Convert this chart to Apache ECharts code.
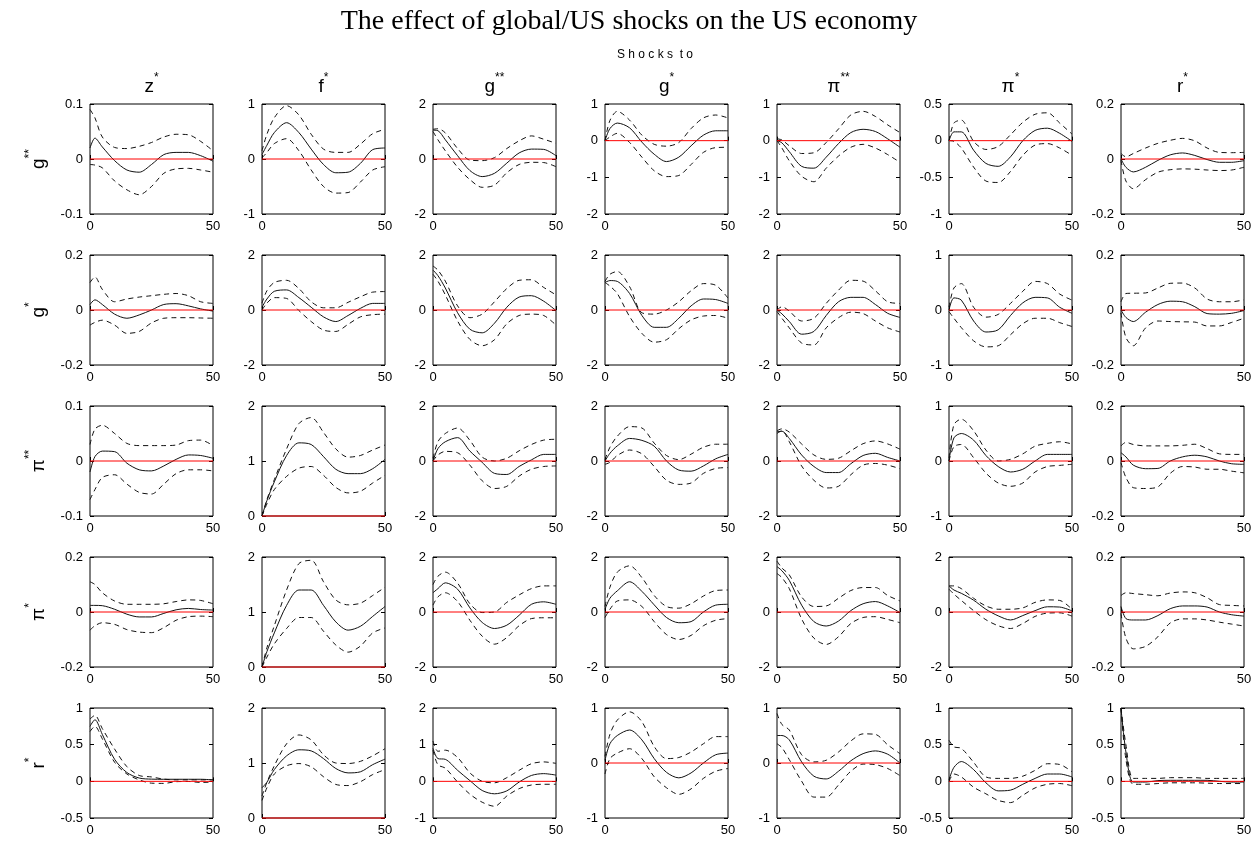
<!DOCTYPE html>
<html><head><meta charset="utf-8">
<script src="https://cdn.jsdelivr.net/npm/echarts@6/dist/echarts.min.js"></script>
<style>html,body{margin:0;padding:0;background:#fff}#c{width:1258px;height:844px}</style>
</head><body><div id="c"></div>
<script>
// ---------------- DATA ----------------
const horizons = [0, 2, 5, 10, 15, 20, 25, 30, 35, 40, 45, 50];
const shockBase = ['z', 'f', 'g', 'g', 'π', 'π', 'r'];
const shockSup  = ['*', '*', '**', '*', '**', '*', '*'];
const respBase  = ['g', 'g', 'π', 'π', 'r'];
const respSup   = ['**', '*', '**', '*', '*'];

// y-axis tick ranges [row][col]
const yMin  = [[-0.1,-1,-2,-2,-2,-1,-0.2],[-0.2,-2,-2,-2,-2,-1,-0.2],[-0.1,0,-2,-2,-2,-1,-0.2],[-0.2,0,-2,-2,-2,-2,-0.2],[-0.5,0,-1,-1,-1,-0.5,-0.5]];
const yMax  = [[0.1,1,2,1,1,0.5,0.2],[0.2,2,2,2,2,1,0.2],[0.1,2,2,2,2,1,0.2],[0.2,2,2,2,2,2,0.2],[1,2,2,1,1,1,1]];
const yStep = [[0.1,1,2,1,1,0.5,0.2],[0.2,2,2,2,2,1,0.2],[0.1,1,2,2,2,1,0.2],[0.2,1,2,2,2,2,0.2],[0.5,1,1,1,1,0.5,0.5]];

// Row 1: response of g**
const medG2 = [
 [0.02,0.038,0.022,-0.003,-0.02,-0.024,-0.01,0.008,0.012,0.012,0.006,-0.004],
 [0.08,0.25,0.48,0.66,0.48,0.18,-0.1,-0.25,-0.24,-0.08,0.17,0.2],
 [1.05,1.03,0.7,0.12,-0.42,-0.64,-0.52,-0.15,0.22,0.36,0.35,0.12],
 [0,0.33,0.48,0.35,-0.04,-0.37,-0.57,-0.45,-0.14,0.15,0.27,0.27],
 [0,-0.06,-0.3,-0.7,-0.75,-0.45,-0.08,0.22,0.31,0.25,0.05,-0.18],
 [0,0.12,0.12,-0.13,-0.31,-0.35,-0.22,0,0.14,0.17,0.1,-0.01],
 [0,-0.03,-0.047,-0.03,-0.005,0.015,0.022,0.013,-0.002,-0.012,-0.012,-0.006]];
const hiG2 = [
 [0.09,0.075,0.04,0.021,0.019,0.023,0.03,0.04,0.045,0.044,0.032,0.015],
 [0.15,0.45,0.75,0.97,0.8,0.45,0.18,0.12,0.12,0.27,0.46,0.54],
 [1.08,1.1,0.95,0.38,-0.04,-0.06,0.05,0.38,0.66,0.84,0.72,0.57],
 [0,0.55,0.8,0.56,0.15,-0.1,-0.15,-0.05,0.33,0.62,0.7,0.62],
 [0.05,0.02,-0.14,-0.35,-0.33,-0.05,0.32,0.7,0.8,0.66,0.43,0.22],
 [0,0.24,0.28,-0.01,-0.12,-0.08,0.08,0.25,0.36,0.38,0.24,0.09],
 [0.02,0.008,0.02,0.04,0.057,0.068,0.075,0.066,0.04,0.024,0.023,0.024]];
const loG2 = [
 [-0.01,-0.011,-0.016,-0.04,-0.056,-0.065,-0.05,-0.026,-0.018,-0.017,-0.02,-0.024],
 [0.02,0.12,0.28,0.37,0.15,-0.2,-0.5,-0.62,-0.61,-0.42,-0.2,-0.14],
 [1.0,0.7,0.3,-0.3,-0.75,-1.03,-0.95,-0.5,-0.2,-0.12,-0.13,-0.28],
 [0,0.1,0.2,-0.05,-0.45,-0.82,-0.98,-0.95,-0.65,-0.32,-0.19,-0.18],
 [0,-0.2,-0.55,-0.97,-1.12,-0.75,-0.42,-0.18,-0.1,-0.2,-0.38,-0.59],
 [0,-0.01,-0.1,-0.36,-0.55,-0.57,-0.42,-0.2,-0.06,-0.04,-0.1,-0.2],
 [-0.005,-0.08,-0.108,-0.075,-0.048,-0.039,-0.036,-0.037,-0.04,-0.042,-0.04,-0.03]];

// Row 2: response of g*
const medG1 = [
 [0.02,0.037,0.02,-0.015,-0.03,-0.018,0,0.02,0.023,0.015,0.004,-0.004],
 [0.1,0.4,0.68,0.73,0.45,0.1,-0.25,-0.42,-0.2,0.06,0.24,0.24],
 [1.45,1.25,0.8,-0.1,-0.7,-0.83,-0.48,0.1,0.47,0.52,0.32,-0.02],
 [1.0,1.07,1.04,0.6,-0.2,-0.63,-0.63,-0.3,0.15,0.4,0.38,0.24],
 [0,-0.14,-0.42,-0.88,-0.78,-0.2,0.3,0.46,0.46,0.2,-0.12,-0.27],
 [0,0.22,0.18,-0.2,-0.4,-0.36,-0.1,0.13,0.23,0.22,0.05,-0.06],
 [0,-0.027,-0.042,-0.008,0.02,0.032,0.03,0.012,-0.013,-0.015,-0.012,-0.002]];
const hiG1 = [
 [0.1,0.12,0.075,0.03,0.04,0.047,0.052,0.057,0.06,0.052,0.03,0.024],
 [0.25,0.7,1.0,1.08,0.78,0.3,0.08,0.08,0.28,0.48,0.65,0.67],
 [1.6,1.45,1.05,0.15,-0.28,-0.15,0.3,0.78,1.08,1.1,0.82,0.55],
 [1.04,1.3,1.4,0.85,-0.1,-0.15,0,0.3,0.7,0.96,0.9,0.43],
 [0,0.12,-0.04,-0.4,-0.3,0.24,0.72,1.08,1.05,0.7,0.3,0.24],
 [0.05,0.4,0.48,0.05,-0.13,-0.08,0.12,0.34,0.52,0.48,0.29,0.18],
 [0.03,0.06,0.061,0.062,0.08,0.097,0.098,0.08,0.04,0.03,0.03,0.037]];
const loG1 = [
 [-0.055,-0.045,-0.037,-0.055,-0.085,-0.078,-0.047,-0.03,-0.028,-0.028,-0.029,-0.03],
 [0,0.25,0.45,0.42,-0.02,-0.42,-0.73,-0.78,-0.52,-0.25,-0.17,-0.15],
 [1.3,1.05,0.55,-0.4,-1.07,-1.3,-1.08,-0.5,-0.2,-0.15,-0.2,-0.55],
 [1.0,0.87,0.6,-0.24,-0.85,-1.17,-1.08,-0.68,-0.36,-0.22,-0.2,-0.3],
 [-0.05,-0.3,-0.65,-1.2,-1.27,-0.65,-0.28,-0.08,-0.13,-0.4,-0.65,-0.8],
 [-0.03,-0.15,-0.32,-0.56,-0.67,-0.65,-0.45,-0.25,-0.15,-0.15,-0.23,-0.3],
 [-0.01,-0.1,-0.13,-0.065,-0.04,-0.042,-0.043,-0.044,-0.058,-0.058,-0.045,-0.03]];

// Row 3: response of π**
const medP2 = [
 [-0.02,0.008,0.018,0.017,-0.004,-0.016,-0.018,-0.009,0.003,0.011,0.01,0.005],
 [0,0.28,0.62,1.1,1.33,1.3,1.08,0.85,0.77,0.77,0.86,1.03],
 [0,0.45,0.7,0.85,0.36,-0.05,-0.45,-0.49,-0.2,0.04,0.24,0.24],
 [0,0.28,0.55,0.82,0.75,0.54,0,-0.33,-0.37,-0.18,0.08,0.24],
 [1.06,1.08,0.82,0.22,-0.2,-0.42,-0.42,-0.1,0.2,0.28,0.13,0],
 [0,0.42,0.5,0.38,0.1,-0.1,-0.2,-0.15,0,0.12,0.12,0.12],
 [0.03,0.015,-0.015,-0.028,-0.027,0,0.015,0.021,0.015,0,-0.01,-0.012]];
const hiP2 = [
 [0.03,0.058,0.065,0.05,0.032,0.028,0.028,0.028,0.029,0.037,0.038,0.028],
 [0,0.3,0.66,1.22,1.68,1.79,1.52,1.22,1.07,1.1,1.2,1.29],
 [0.1,0.7,1.0,1.2,0.75,0.14,0,0.1,0.37,0.6,0.76,0.79],
 [0.05,0.5,0.9,1.25,1.2,0.65,0.2,0.05,0.25,0.5,0.61,0.61],
 [1.1,1.17,1.05,0.62,0.22,0.06,0.1,0.37,0.63,0.73,0.62,0.43],
 [0.05,0.66,0.76,0.55,0.2,0,0.03,0.13,0.27,0.32,0.35,0.31],
 [0.055,0.068,0.06,0.055,0.055,0.055,0.057,0.061,0.045,0.026,0.024,0.024]];
const loP2 = [
 [-0.07,-0.052,-0.03,-0.025,-0.042,-0.057,-0.06,-0.042,-0.023,-0.016,-0.016,-0.018],
 [0,0.22,0.48,0.72,0.87,0.9,0.74,0.52,0.42,0.45,0.6,0.74],
 [0,0.22,0.35,0.3,-0.15,-0.72,-1.0,-0.92,-0.55,-0.3,-0.2,-0.18],
 [-0.12,-0.05,0.2,0.4,0.26,-0.2,-0.7,-0.85,-0.8,-0.45,-0.27,-0.24],
 [1.0,1.1,0.7,-0.18,-0.7,-0.98,-0.92,-0.5,-0.15,-0.09,-0.15,-0.28],
 [0,0.26,0.3,0.06,-0.22,-0.4,-0.46,-0.4,-0.2,-0.1,-0.08,-0.06],
 [-0.006,-0.06,-0.097,-0.1,-0.094,-0.045,-0.02,-0.022,-0.03,-0.03,-0.037,-0.043]];

// Row 4: response of π*
const medP1 = [
 [0.024,0.024,0.023,0.01,-0.008,-0.018,-0.018,-0.005,0.008,0.013,0.009,0.007],
 [0,0.28,0.62,1.12,1.4,1.4,1.12,0.82,0.67,0.74,0.92,1.1],
 [0.7,0.85,1.06,0.83,0.15,-0.38,-0.6,-0.48,-0.12,0.28,0.37,0.28],
 [0.1,0.5,0.77,1.1,0.75,0.26,-0.2,-0.39,-0.35,0,0.25,0.28],
 [1.65,1.5,1.15,0.25,-0.35,-0.51,-0.33,0.05,0.3,0.38,0.22,-0.02],
 [0.95,0.8,0.68,0.43,0.1,-0.14,-0.29,-0.13,0.05,0.19,0.18,0.04],
 [0.02,-0.024,-0.029,-0.029,-0.013,0.012,0.022,0.022,0.018,0,-0.01,-0.015]];
const hiP1 = [
 [0.11,0.1,0.07,0.04,0.028,0.028,0.028,0.03,0.038,0.044,0.042,0.03],
 [0,0.35,0.75,1.4,1.88,1.94,1.55,1.22,1.13,1.16,1.3,1.45],
 [1.0,1.3,1.45,1.05,0.3,-0.02,0,0.35,0.62,0.85,0.95,0.95],
 [0.2,0.9,1.45,1.68,1.25,0.6,0.2,0.14,0.3,0.58,0.78,0.8],
 [1.85,1.6,1.35,0.55,0.2,0.22,0.5,0.78,0.89,0.89,0.6,0.4],
 [0.95,0.95,0.85,0.5,0.22,0.1,0.1,0.15,0.35,0.44,0.42,0.1],
 [0.06,0.07,0.067,0.063,0.059,0.069,0.073,0.07,0.052,0.027,0.024,0.022]];
const loP1 = [
 [-0.066,-0.05,-0.039,-0.045,-0.064,-0.073,-0.075,-0.057,-0.03,-0.017,-0.015,-0.017],
 [0,0.18,0.42,0.7,0.9,0.9,0.65,0.4,0.27,0.38,0.62,0.71],
 [0.25,0.55,0.7,0.38,-0.3,-0.88,-1.17,-0.93,-0.5,-0.24,-0.21,-0.21],
 [-0.2,0.1,0.4,0.44,0.2,-0.35,-0.82,-1.0,-0.85,-0.5,-0.3,-0.24],
 [1.4,1.25,0.85,-0.25,-0.95,-1.18,-0.9,-0.42,-0.2,-0.17,-0.27,-0.39],
 [0.83,0.65,0.42,0.05,-0.28,-0.5,-0.6,-0.42,-0.16,-0.04,-0.03,-0.15],
 [-0.005,-0.095,-0.134,-0.125,-0.09,-0.04,-0.025,-0.025,-0.029,-0.037,-0.044,-0.051]];

// Row 5: response of r*
const medR1 = [
 [0.75,0.84,0.64,0.3,0.12,0.045,0.03,0.028,0.028,0.028,0.028,0.02],
 [0.55,0.65,0.88,1.13,1.24,1.22,1.08,0.9,0.82,0.84,0.97,1.07],
 [0.9,0.62,0.6,0.3,0.02,-0.25,-0.34,-0.26,-0.02,0.16,0.21,0.17],
 [0.05,0.35,0.5,0.6,0.42,0.08,-0.17,-0.27,-0.18,0,0.15,0.18],
 [0.5,0.5,0.42,0.02,-0.24,-0.29,-0.15,0.04,0.17,0.22,0.16,0],
 [0.02,0.19,0.27,0.16,-0.02,-0.13,-0.12,-0.04,0.04,0.1,0.1,0.06],
 [1.0,0.4,-0.01,-0.01,0.01,0.014,0.014,0.014,0.014,0,-0.01,-0.01]];
const hiR1 = [
 [0.85,0.9,0.72,0.44,0.2,0.08,0.06,0.03,0.02,0.02,0.02,0.02],
 [0.4,0.65,0.95,1.35,1.51,1.42,1.15,1.0,0.99,1.03,1.13,1.26],
 [1.1,0.82,0.85,0.65,0.23,0,-0.04,0.1,0.3,0.48,0.53,0.49],
 [0.12,0.52,0.78,0.93,0.75,0.3,0.08,0.1,0.2,0.35,0.48,0.48],
 [0.9,0.7,0.6,0.15,0.02,0.05,0.2,0.4,0.53,0.52,0.33,0.17],
 [0.56,0.47,0.45,0.26,0.06,0.04,0.04,0.07,0.15,0.24,0.23,0.13],
 [1.0,0.5,0.04,0.04,0.04,0.05,0.05,0.05,0.04,0.04,0.04,0.04]];
const loR1 = [
 [0.68,0.75,0.58,0.26,0.1,0.02,-0.025,-0.028,-0.005,-0.002,-0.015,-0.01],
 [0.32,0.55,0.8,0.95,0.99,0.93,0.75,0.61,0.59,0.66,0.79,0.88],
 [0.85,0.45,0.36,-0.02,-0.35,-0.57,-0.68,-0.4,-0.2,-0.1,-0.08,-0.08],
 [-0.2,0.08,0.18,0.26,0.08,-0.25,-0.45,-0.57,-0.47,-0.28,-0.15,-0.1],
 [0.35,0.28,0.06,-0.33,-0.62,-0.62,-0.4,-0.15,-0.02,-0.03,-0.1,-0.23],
 [0,0.1,0.06,-0.08,-0.17,-0.26,-0.29,-0.19,-0.09,-0.04,-0.03,-0.06],
 [1.0,0.3,-0.04,-0.04,-0.03,-0.02,-0.02,-0.02,-0.025,-0.03,-0.03,-0.03]];

const MED = [medG2, medG1, medP2, medP1, medR1];
const HI  = [hiG2, hiG1, hiP2, hiP1, hiR1];
const LO  = [loG2, loG1, loP2, loP1, loR1];

// ---------------- LAYOUT ----------------
const colLeft = [90, 262, 433, 605, 777, 949, 1121];
const rowTop  = [104, 255, 406, 557, 708];
const PW = 123, PH = 110;
const FONT = '"Liberation Sans", Arial, sans-serif';

const chart = echarts.init(document.getElementById('c'), null, {renderer: 'canvas'});
const grid = [], xAxis = [], yAxis = [], series = [], graphic = [];
const pts = arr => horizons.map((h, i) => [h, arr[i]]);

for (let r = 0; r < 5; r++) {
  for (let c = 0; c < 7; c++) {
    const idx = r * 7 + c;
    grid.push({left: colLeft[c], top: rowTop[r], width: PW, height: PH, show: true,
      borderColor: '#000', borderWidth: 1, backgroundColor: '#fff', containLabel: false});
    xAxis.push({gridIndex: idx, type: 'value', min: 0, max: 50, interval: 50,
      axisLine: {show: false}, splitLine: {show: false},
      axisTick: {inside: true, length: 4, lineStyle: {color: '#000'}},
      axisLabel: {fontSize: 13, color: '#000', margin: 6, fontFamily: FONT}});
    const yBase = {gridIndex: idx, type: 'value', min: yMin[r][c], max: yMax[r][c], interval: yStep[r][c],
      axisLine: {show: false}, splitLine: {show: false},
      axisTick: {inside: true, length: 4, lineStyle: {color: '#000'}}};
    yAxis.push(Object.assign({}, yBase, {position: 'left',
      axisLabel: {fontSize: 13, color: '#000', margin: 7, fontFamily: FONT}}));
    yAxis.push(Object.assign({}, yBase, {position: 'right', axisLabel: {show: false}}));
    const yi = 2 * idx;
    series.push({type: 'line', xAxisIndex: idx, yAxisIndex: yi, data: [[0, 0], [50, 0]],
      symbol: 'none', silent: true, clip: false, z: 4, lineStyle: {color: '#ff0000', width: 1}});
    const common = {type: 'line', xAxisIndex: idx, yAxisIndex: yi, symbol: 'none', silent: true, smooth: 0.3, z: 3};
    series.push(Object.assign({}, common, {data: pts(LO[r][c]), lineStyle: {color: '#111', width: 1, type: [5, 4]}}));
    series.push(Object.assign({}, common, {data: pts(HI[r][c]), lineStyle: {color: '#111', width: 1, type: [5, 4]}}));
    series.push(Object.assign({}, common, {data: pts(MED[r][c]), lineStyle: {color: '#111', width: 1}}));
  }
}

const rich = {
  b: {fontSize: 19, fontFamily: FONT, color: '#000', lineHeight: 24, verticalAlign: 'bottom'},
  s: {fontSize: 12, fontFamily: FONT, color: '#000', lineHeight: 12, verticalAlign: 'top'}
};
for (let c = 0; c < 7; c++) {
  graphic.push({type: 'text', x: colLeft[c] + PW / 2, y: 84, silent: true,
    style: {text: '{b|' + shockBase[c] + '}{s|' + shockSup[c] + '}', rich: rich, align: 'center', verticalAlign: 'middle'}});
}
for (let r = 0; r < 5; r++) {
  graphic.push({type: 'text', x: 36, y: rowTop[r] + PH / 2, rotation: Math.PI / 2, silent: true,
    style: {text: '{b|' + respBase[r] + '}{s|' + respSup[r] + '}', rich: rich, align: 'center', verticalAlign: 'middle'}});
}
graphic.push({type: 'text', x: 655, y: 55, silent: true,
  style: {text: 'S h o c k s  t o', font: '12px ' + FONT, fill: '#000', align: 'center', verticalAlign: 'middle'}});

chart.setOption({
  animation: false,
  backgroundColor: '#fff',
  title: {text: 'The effect of global/US shocks on the US economy', left: 'center', top: 3,
    textStyle: {fontFamily: '"Liberation Serif", "DejaVu Serif", serif', fontSize: 28, fontWeight: 'normal', color: '#000'}},
  grid, xAxis, yAxis, series, graphic
});
</script></body></html>
